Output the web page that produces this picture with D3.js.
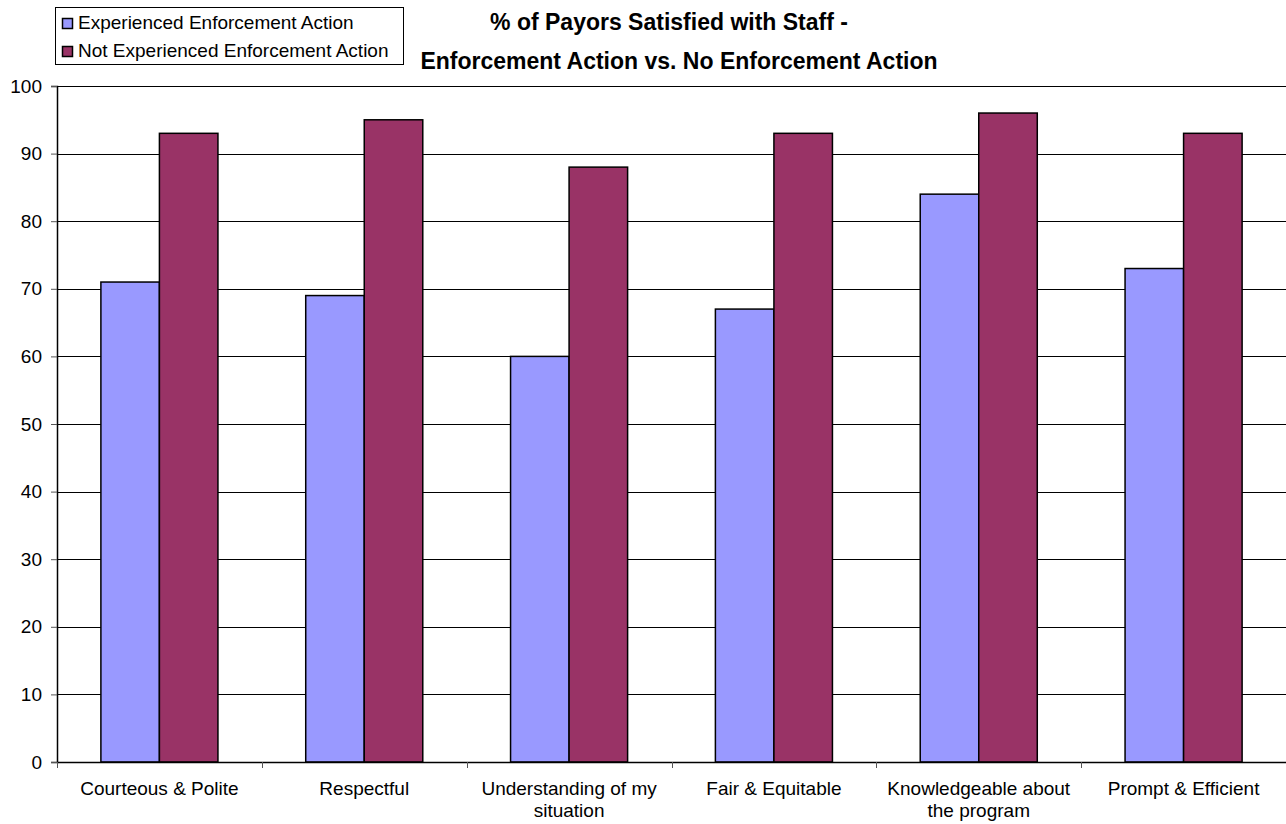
<!DOCTYPE html>
<html>
<head>
<meta charset="utf-8">
<script src="https://cdn.jsdelivr.net/npm/d3@7"></script>
<style>
  html, body { margin: 0; padding: 0; background: #fff; }
  svg { display: block; font-family: "Liberation Sans", Arial, sans-serif; }
</style>
</head>
<body>
<svg id="chart" width="1286" height="824"></svg>
<script>
// Satisfaction categories (multi-line labels split on "\n")
const categories = [
  "Courteous & Polite",
  "Respectful",
  "Understanding of my\nsituation",
  "Fair & Equitable",
  "Knowledgeable about\nthe program",
  "Prompt & Efficient"
];
const seriesNames = ["Experienced Enforcement Action", "Not Experienced Enforcement Action"];
const experienced = [71, 69, 60, 67, 84, 73];
const notExperienced = [93, 95, 88, 93, 96, 93];
const yTicks = [0, 10, 20, 30, 40, 50, 60, 70, 80, 90, 100];
const colors = ["#9999FF", "#993366"];

const svg = d3.select("#chart");
const margin = { left: 57, right: 0, top: 86, bottom: 62 };
const W = 1286, H = 824;
const plotW = W - margin.left - margin.right;
const plotH = H - margin.top - margin.bottom;

const x = d3.scaleBand().domain(categories).range([0, plotW]).paddingInner(0).paddingOuter(0);
// Excel-style clustered bars: gap width 150% of a bar
const barW = x.bandwidth() / 3.5;
const xs = d3.scaleBand().domain([0, 1]).range([barW * 0.75, barW * 2.75]);
const y = d3.scaleLinear().domain([0, 100]).range([plotH, 0]);

const g = svg.append("g").attr("transform", `translate(${margin.left},${margin.top})`);

// Horizontal gridlines
g.append("g").selectAll("line").data(yTicks.filter(d => d > 0)).join("line")
  .attr("x1", 0).attr("x2", plotW)
  .attr("y1", d => Math.round(y(d)) + 0.5).attr("y2", d => Math.round(y(d)) + 0.5)
  .attr("stroke", "#000").attr("stroke-width", 1);

// Bars
const data = categories.map((c, i) => ({ cat: c, vals: [experienced[i], notExperienced[i]] }));
const groups = g.append("g").selectAll("g").data(data).join("g")
  .attr("transform", d => `translate(${x(d.cat)},0)`);
groups.selectAll("rect").data(d => d.vals.map((v, k) => ({ v, k }))).join("rect")
  .attr("x", d => xs(d.k))
  .attr("width", xs.bandwidth())
  .attr("y", d => y(d.v))
  .attr("height", d => y(0) - y(d.v))
  .attr("fill", d => colors[d.k])
  .attr("stroke", "#000").attr("stroke-width", 1.5);

// Y axis
const yAxis = d3.axisLeft(y).tickValues(yTicks).tickSize(6).tickPadding(9);
const ya = g.append("g").call(yAxis);
ya.select(".domain").attr("stroke", "#000").attr("stroke-width", 1.5);
ya.selectAll(".tick line").attr("stroke", "#555");
ya.selectAll(".tick text").attr("font-size", 19).attr("fill", "#000")
  .attr("font-family", "Liberation Sans, Arial, sans-serif");

// X axis with tick marks on category boundaries
const xa = g.append("g").attr("transform", `translate(0,${plotH})`);
xa.append("line").attr("x1", 0).attr("x2", plotW).attr("y1", 0.5).attr("y2", 0.5)
  .attr("stroke", "#000").attr("stroke-width", 1.5);
const bounds = d3.range(categories.length + 1).map(i => i * x.step());
xa.selectAll("line.tk").data(bounds).join("line").attr("class", "tk")
  .attr("x1", d => Math.round(d) + 0.5).attr("x2", d => Math.round(d) + 0.5)
  .attr("y1", 0).attr("y2", 6).attr("stroke", "#555");
const labels = xa.selectAll("text.cat").data(categories).join("text").attr("class", "cat")
  .attr("x", d => x(d) + x.bandwidth() / 2)
  .attr("y", 33)
  .attr("text-anchor", "middle")
  .attr("font-size", 19).attr("fill", "#000");
labels.each(function(d) {
  const lines = d.split("\n");
  d3.select(this).selectAll("tspan").data(lines).join("tspan")
    .attr("x", x(d) + x.bandwidth() / 2)
    .attr("dy", (l, i) => i === 0 ? 0 : 22)
    .text(l => l);
});

// Title
const title = svg.append("text").attr("x", 669).attr("text-anchor", "middle")
  .attr("font-size", 23).attr("font-weight", "bold").attr("fill", "#000");
title.append("tspan").attr("x", 669).attr("y", 30).text("% of Payors Satisfied with Staff -");
title.append("tspan").attr("x", 679).attr("y", 69).text("Enforcement Action vs. No Enforcement Action");

// Legend
const lg = svg.append("g");
lg.append("rect").attr("x", 55.5).attr("y", 7.5).attr("width", 348).attr("height", 57)
  .attr("fill", "#fff").attr("stroke", "#000").attr("stroke-width", 1);
const li = lg.selectAll("g.item").data(seriesNames).join("g").attr("class", "item")
  .attr("transform", (d, i) => `translate(0,${i * 28})`);
li.append("rect").attr("x", 62.5).attr("y", 18.5).attr("width", 10).attr("height", 10)
  .attr("fill", (d, i) => colors[i]).attr("stroke", "#000").attr("stroke-width", 1.5);
li.append("text").attr("x", 78).attr("y", 29).attr("font-size", 19).attr("fill", "#000")
  .text(d => d);
</script>
</body>
</html>
